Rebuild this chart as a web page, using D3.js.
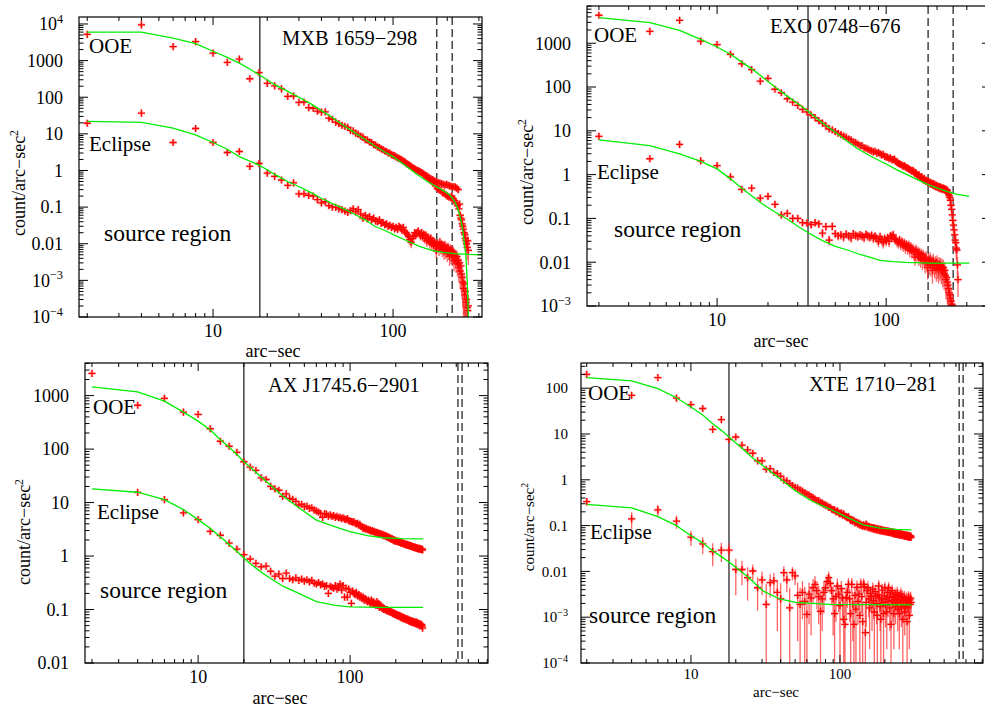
<!DOCTYPE html>
<html><head><meta charset="utf-8">
<script src="https://cdn.jsdelivr.net/npm/d3@7"></script>
<style>body{margin:0;background:#fff;}svg{display:block;font-family:"Liberation Serif","Times New Roman",serif;}</style>
</head><body><svg id="c" width="985" height="711"></svg>
<script>
// ---------- DATA ----------
const binRadius = [2,4,6,8,10,12,14,16,18,20,22,24,26,28,30,32,34,36,38,40,
42,44,46,48,50,52,54,56,58,60,62,64,66,68,70,72,74,76,78,80,
82,84,86,88,90,92,94,96,98,100,102,104,106,108,110,112,114,116,118,120,
122,124,126,128,130,132,134,136,138,140,142,144,146,148,150,152,154,156,158,160,
162,164,166,168,170,172,174,176,178,180,182,184,186,188,190,192,194,196,198,200,
202,204,206,208,210,212,214,216,218,220,222,224,226,228,230,232,234,236,238,240,
242,244,246,248,250,252,254,256,258,260,262,264,266,268,270,272,274,276,278,280,
282,284,286,288,290,292,294,296,298,300];

// Panel 1: MXB 1659-298
const p1OoeY = [5200,9500,2400,3300,1600,890,1100,320,470,240,
205,170,105,108,72,74,52,50,42,39,
40,27,25,21,19,17,16,15,12.5,12,
10.5,9.8,8.6,8.1,7.0,6.8,6.0,5.8,5.1,4.9,
4.4,4.2,3.9,3.7,3.4,3.3,3.0,3.0,2.7,2.6,
2.5,2.35,2.2,2.15,2.0,1.95,1.8,1.75,1.6,1.5,
1.45,1.35,1.3,1.2,1.15,1.1,1.05,1.0,0.98,0.95,
0.9,0.88,0.84,0.8,0.75,0.72,0.7,0.62,0.66,0.55,
0.6,0.5,0.56,0.45,0.52,0.38,0.5,0.32,0.47,0.3,
0.45,0.28,0.44,0.25,0.42,0.24,0.4,0.22,0.42,0.2,
0.4,0.19,0.38,0.18,0.37,0.2,0.36,0.17,0.36,0.15,
0.35,0.13,0.33,0.11,0.3,0.09,0.12,0.06,0.05,0.045,
0.035,0.03,0.025,0.02,0.018,0.014,0.012,0.01,0.008,0.012,
0.0066];
const p1OoeErr = [.03,.03,.03,.03,.03,.03,.03,.03,.03,.03,
.03,.03,.03,.03,.03,.03,.03,.03,.03,.03,
.04,.04,.04,.04,.04,.04,.04,.04,.04,.04,
.04,.04,.04,.04,.04,.04,.04,.04,.04,.04,
.05,.05,.05,.05,.05,.05,.05,.05,.05,.05,
.05,.05,.05,.05,.05,.05,.05,.05,.05,.05,
.06,.06,.06,.06,.06,.06,.06,.06,.06,.06,
.07,.07,.07,.07,.07,.07,.07,.07,.07,.07,
.08,.08,.09,.09,.1,.1,.1,.12,.1,.12,
.1,.12,.1,.13,.1,.13,.11,.14,.11,.14,
.11,.15,.12,.15,.12,.15,.12,.16,.12,.17,
.13,.18,.13,.2,.14,.22,.2,.25,.28,.3,
.32,.35,.38,.4,.42,.45,.5,.5,.55,.5,
.6];
const p1EclY = [19.5,37,5.8,14,5.8,3.1,3.3,1.3,1.55,0.85,
0.69,0.55,0.39,0.46,0.23,0.23,0.21,0.2,0.16,0.13,
0.14,0.11,0.1,0.098,0.09,0.085,0.078,0.072,0.08,0.09,
0.075,0.085,0.065,0.05,0.06,0.048,0.055,0.045,0.05,0.042,
0.04,0.045,0.036,0.038,0.033,0.035,0.03,0.032,0.028,0.03,
0.026,0.028,0.025,0.03,0.027,0.024,0.028,0.022,0.02,0.018,
0.016,0.013,0.011,0.014,0.016,0.02,0.018,0.02,0.022,0.019,
0.017,0.02,0.016,0.018,0.014,0.017,0.012,0.015,0.013,0.011,
0.014,0.01,0.012,0.009,0.011,0.0085,0.0065,0.01,0.009,0.0075,
0.011,0.008,0.0095,0.007,0.0085,0.006,0.009,0.0065,0.0075,0.0055,
0.008,0.006,0.0045,0.007,0.005,0.0065,0.0045,0.006,0.0035,0.005,
0.004,0.0032,0.0045,0.0028,0.0035,0.0022,0.003,0.0018,0.0025,0.0015,
0.0012,0.0009,0.0006,0.0008,0.0004,0.0005,0.00025,0.0003,0.00018,0.00015,
0.0002];
const p1EclErr = [.06,.05,.08,.06,.06,.07,.07,.09,.09,.09,
.1,.1,.12,.11,.12,.12,.12,.12,.13,.13,
.13,.14,.14,.14,.15,.15,.15,.16,.15,.15,
.16,.16,.17,.18,.17,.18,.18,.19,.18,.19,
.19,.19,.2,.2,.21,.2,.22,.21,.22,.21,
.22,.22,.23,.22,.23,.24,.23,.25,.26,.27,
.28,.3,.32,.3,.28,.26,.27,.26,.25,.27,
.28,.26,.28,.27,.3,.28,.32,.3,.32,.34,
.3,.33,.31,.34,.32,.35,.38,.33,.35,.38,
.32,.36,.34,.38,.35,.4,.34,.4,.37,.42,
.36,.4,.45,.38,.43,.4,.45,.4,.5,.44,
.46,.5,.45,.55,.5,.6,.55,.65,.58,.7,
.75,.8,.9,.85,.95,.95,1,1,1,1,
1];
const p1OoeModelX = [2,4,6,8,10,12,14,16,18,20,22,26,30,35,40,46,52,60,70,80,90,100,110,121,135,150,165,180,195,205,215,222,228,234,240,245,249,253,256,258,260,262];
const p1OoeModelY = [6000,6000,4100,2900,1800,1220,850,590,410,300,220,145,100,66,43,28,18,11.5,7.0,4.5,3.2,2.4,1.7,1.2,0.8,0.56,0.42,0.33,0.26,0.22,0.17,0.13,0.095,0.063,0.037,0.02,0.01,0.0056,0.0022,0.001,0.0004,0.0001];
const p1EclModelX = [2,4,6,8,10,12,14,16,18,20,22,26,30,34,40,46,52,60,70,79,90,100,121,140,164,190,220,260,312];
const p1EclModelY = [22,20.5,14.3,9.4,5.8,3.8,2.4,1.8,1.4,1.05,0.78,0.5,0.36,0.27,0.175,0.125,0.095,0.067,0.045,0.03,0.023,0.018,0.0117,0.0085,0.0066,0.0058,0.0054,0.0051,0.005];
const p1Solid = [18.2];
const p1Dashed = [175, 213];
const p1YTickVals = [1e4,1e3,100,10,1,0.1,0.01,1e-3,1e-4];
const p1YTickLabels = ["10^4","1000","100","10","1","0.1","0.01","10^−3","10^−4"];

// Panel 2: EXO 0748-676
const p2OoeY = [4350,1870,3330,1120,930,560,340,250,136,158,
89,74,54,45,38,31,27,23,20,17,
15,13,11,10.5,9.6,8.8,8.2,7.6,7.2,6.5,
6.2,5.6,5.4,5.0,4.6,4.6,4.1,4.0,3.8,3.6,
3.5,3.3,3.4,3.1,3.2,3.0,2.8,2.9,2.6,2.5,
2.5,2.3,2.4,2.2,2.2,2.25,2.0,1.9,1.8,1.75,
1.7,1.65,1.55,1.6,1.5,1.45,1.4,1.35,1.3,1.25,
1.2,1.25,1.15,1.05,1.1,1.0,0.95,1.0,0.9,0.85,
0.9,0.8,0.76,0.82,0.74,0.7,0.74,0.66,0.7,0.64,
0.67,0.6,0.64,0.58,0.62,0.55,0.6,0.53,0.57,0.52,
0.55,0.5,0.53,0.48,0.52,0.47,0.5,0.46,0.49,0.45,
0.48,0.44,0.46,0.42,0.44,0.39,0.36,0.33,0.3,0.26,
0.2,0.16,0.12,0.09,0.07,0.055,0.042,0.032,0.028,0.021,
0.019,0.0087,0.004];
const p2OoeErr = [.03,.03,.03,.03,.03,.03,.03,.03,.03,.03,
.03,.03,.03,.03,.03,.03,.03,.03,.03,.03,
.04,.04,.04,.04,.04,.04,.04,.04,.04,.04,
.04,.04,.04,.04,.04,.04,.04,.04,.04,.04,
.05,.05,.05,.05,.05,.05,.05,.05,.05,.05,
.05,.05,.05,.05,.05,.05,.05,.05,.05,.05,
.06,.06,.06,.06,.06,.06,.06,.06,.06,.06,
.07,.07,.07,.07,.07,.07,.07,.07,.07,.07,
.08,.08,.08,.09,.09,.09,.09,.1,.1,.1,
.1,.1,.1,.11,.11,.11,.11,.11,.12,.12,
.12,.12,.12,.12,.12,.12,.12,.12,.12,.12,
.12,.13,.12,.14,.13,.15,.16,.17,.18,.2,
.22,.25,.28,.3,.32,.35,.38,.4,.42,.45,
.45,.5,.6];
const p2EclY = [7.5,2.3,4.9,2.06,1.6,0.89,0.46,0.49,0.29,0.32,
0.21,0.12,0.13,0.1,0.1,0.08,0.078,0.072,0.08,0.075,
0.046,0.065,0.032,0.066,0.045,0.04,0.042,0.038,0.044,0.04,
0.036,0.045,0.041,0.039,0.042,0.04,0.037,0.043,0.04,0.038,
0.041,0.036,0.039,0.035,0.03,0.038,0.033,0.028,0.034,0.031,
0.036,0.03,0.04,0.038,0.042,0.035,0.033,0.03,0.028,0.032,
0.026,0.029,0.024,0.027,0.022,0.025,0.021,0.024,0.019,0.022,
0.018,0.02,0.017,0.013,0.019,0.015,0.017,0.013,0.016,0.012,
0.015,0.011,0.014,0.012,0.0095,0.013,0.01,0.0075,0.011,0.009,
0.012,0.0085,0.01,0.0065,0.011,0.009,0.008,0.0095,0.0072,0.01,
0.008,0.0068,0.009,0.0075,0.0085,0.0065,0.008,0.006,0.0075,0.0055,
0.0065,0.005,0.004,0.0045,0.0035,0.003,0.0025,0.002,0.0018,0.0015,
0.0013,0.0011,0.00105,0.0008,0.0006,0.0005,0.0004,0.0003];
const p2EclErr = [.06,.08,.07,.08,.09,.1,.12,.12,.13,.13,
.14,.16,.16,.17,.17,.18,.18,.19,.19,.19,
.22,.2,.25,.2,.22,.22,.22,.23,.22,.23,
.23,.22,.23,.23,.23,.24,.24,.23,.24,.24,
.24,.25,.25,.25,.26,.25,.26,.27,.26,.26,
.25,.26,.25,.25,.24,.26,.26,.27,.28,.27,
.28,.28,.29,.28,.3,.29,.3,.3,.32,.31,
.32,.32,.33,.36,.33,.35,.34,.37,.35,.38,
.36,.4,.37,.4,.42,.38,.42,.46,.4,.43,
.4,.45,.42,.5,.42,.45,.47,.44,.5,.45,
.48,.52,.47,.5,.48,.52,.5,.55,.52,.58,
.55,.6,.65,.62,.68,.72,.75,.8,.82,.85,
.88,.9,.95,1,1,1,1,1];
const p2OoeModelX = [2,4,6,8,10,12,14,16,18,22,26,30,34.5,42,50,60,67,80,100,115,133,155,182,205,230,260,310];
const p2OoeModelY = [3850,2960,1970,1230,820,560,370,260,185,100,62,42,28,15,9.3,5.5,4.0,2.7,1.75,1.3,1.0,0.75,0.57,0.48,0.41,0.36,0.32];
const p2EclModelX = [2,4,6,8,10,12,14,16,18,22,26,30,34.6,42,50,59,70,80,92,110,130,182,310];
const p2EclModelY = [6.2,4.6,2.97,2.0,1.35,0.8,0.49,0.33,0.23,0.14,0.097,0.066,0.047,0.031,0.023,0.019,0.015,0.013,0.011,0.0103,0.0099,0.0095,0.0095];
const p2Solid = [34.5];
const p2Dashed = [177, 249];
const p2YTickVals = [1000,100,10,1,0.1,0.01,1e-3];
const p2YTickLabels = ["1000","100","10","1","0.1","0.01","10^−3"];

// Panel 3: AX J1745.6-2901
const p3OoeY = [2600,660,890,490,445,240,140,113,87,58,
46,40,29,27,20,18,17,13,14.5,12,
11.5,10.5,9.0,9.3,8.4,8.6,7.8,8.0,7.2,7.0,
6.6,6.3,5.3,6.2,6.0,5.6,5.9,5.5,5.7,5.3,
5.5,5.2,5.3,5.0,5.2,4.9,4.8,5.0,4.6,4.5,
4.4,4.3,4.4,4.1,4.0,4.1,3.8,3.9,3.6,3.5,
3.3,3.4,3.2,3.3,3.1,3.15,3.0,3.05,2.9,3.0,
2.85,2.9,2.75,2.8,2.7,2.75,2.6,2.65,2.55,2.6,
2.5,2.55,2.4,2.45,2.35,2.4,2.3,2.25,2.3,2.2,
2.15,2.2,2.1,2.05,2.1,2.0,1.95,2.0,1.92,1.9,
1.93,1.87,1.85,1.88,1.82,1.8,1.83,1.76,1.75,1.78,
1.72,1.7,1.73,1.67,1.68,1.65,1.62,1.66,1.6,1.62,
1.58,1.56,1.6,1.55,1.53,1.56,1.5,1.52,1.48,1.5,
1.46,1.48,1.44,1.45,1.42,1.44,1.4,1.42,1.38,1.4,
1.37,1.36,1.39,1.34,1.36,1.33,1.35,1.32,1.34,1.3];
const p3EclY = [null,15.5,11.3,6.4,4.8,2.9,2.45,1.75,1.35,1.06,
0.88,0.73,0.63,0.65,0.52,0.42,0.46,0.38,0.48,0.38,
0.36,0.39,0.35,0.37,0.34,0.36,0.33,0.35,0.31,0.3,
0.32,0.29,0.3,0.27,0.28,0.2,0.27,0.26,0.25,0.28,
0.24,0.26,0.3,0.23,0.28,0.17,0.25,0.17,0.24,0.21,
0.13,0.22,0.2,0.19,0.21,0.18,0.19,0.17,0.18,0.16,
0.17,0.15,0.16,0.15,0.14,0.15,0.14,0.13,0.15,0.13,
0.14,0.125,0.13,0.12,0.14,0.12,0.13,0.11,0.12,0.115,
0.105,0.11,0.1,0.105,0.098,0.1,0.095,0.1,0.092,0.095,
0.09,0.094,0.088,0.09,0.085,0.088,0.082,0.085,0.08,0.083,
0.078,0.08,0.076,0.079,0.075,0.077,0.072,0.075,0.07,0.073,
0.069,0.071,0.067,0.07,0.066,0.068,0.065,0.067,0.063,0.066,
0.062,0.064,0.06,0.063,0.059,0.062,0.058,0.061,0.057,0.06,
0.058,0.056,0.059,0.055,0.057,0.054,0.058,0.053,0.056,0.052,
0.055,0.053,0.05,0.054,0.051,0.053,0.05,0.052,0.049,0.045];
const p3OoeModelX = [2,4,6,8,10,12,14,16,18,20,22,26,30,36.4,46,60,80,100,130,165,220,302];
const p3OoeModelY = [1450,1170,790,490,333,230,150,108,79,58,46,30,21,13,8.0,4.7,3.5,2.85,2.4,2.2,2.12,2.1];
const p3EclModelX = [2,4,6,8,10,12,14,16,18,20,22,26,30,36.4,46,60,80,100,150,302];
const p3EclModelY = [18,15.6,11.3,7.4,4.8,3.3,2.3,1.65,1.22,0.92,0.72,0.5,0.38,0.27,0.2,0.14,0.12,0.112,0.11,0.11];
const p3Solid = [20];
const p3Dashed = [513, 546];
const p3YTickVals = [1000,100,10,1,0.1,0.01];
const p3YTickLabels = ["1000","100","10","1","0.1","0.01"];

// Panel 4: XTE 1710-281
const p4OoeY = [200,70,170,61,44,36,12.6,20.5,7.6,8.6,
5.7,4.5,3.8,2.6,2.6,1.7,1.75,1.45,1.37,1.2,
0.98,0.95,0.83,0.75,0.68,0.66,0.6,0.57,0.52,0.49,
0.47,0.43,0.41,0.38,0.35,0.35,0.32,0.31,0.29,0.28,
0.27,0.25,0.25,0.23,0.22,0.22,0.2,0.21,0.19,0.18,
0.19,0.17,0.18,0.16,0.155,0.15,0.155,0.14,0.13,0.135,
0.125,0.13,0.115,0.12,0.117,0.108,0.113,0.102,0.107,0.1,
0.097,0.104,0.095,0.1,0.108,0.093,0.097,0.09,0.094,0.088,
0.092,0.086,0.09,0.084,0.089,0.082,0.087,0.081,0.086,0.08,
0.084,0.078,0.083,0.077,0.082,0.076,0.08,0.075,0.079,0.074,
0.078,0.073,0.077,0.072,0.076,0.071,0.075,0.07,0.074,0.069,
0.073,0.068,0.072,0.067,0.071,0.066,0.07,0.065,0.069,0.065,
0.068,0.064,0.067,0.063,0.067,0.062,0.066,0.062,0.065,0.061,
0.065,0.06,0.064,0.06,0.063,0.059,0.063,0.058,0.062,0.058,
0.061,0.057,0.061,0.057,0.06,0.056,0.06,0.055,0.059,0.056];
const p4EclY = [0.335,0.14,0.22,0.125,0.056,0.04,0.027,0.029,0.029,0.011,
0.011,0.0073,0.0102,0.0044,0.0065,0.0019,0.0057,0.0062,0.0035,0.0025,
0.0094,0.0065,0.0016,0.0094,0.008,0.003,0.0019,0.0035,0.0022,0.00115,
0.0032,0.0026,0.0044,0.0052,0.0038,0.0028,0.00135,0.0025,0.0035,0.0044,
0.006,0.0073,0.0055,0.0038,0.0025,0.0012,0.0028,0.0048,0.0032,0.0018,
0.0042,0.0026,0.0009,0.0007,0.0027,0.0035,0.0052,0.0025,0.0012,0.0052,
0.0019,0.0007,0.003,0.0015,0.0045,0.0022,0.0032,0.0011,0.0052,0.0028,
0.0008,0.0052,0.0046,0.00046,0.0021,0.0038,0.0044,0.0025,0.0016,0.0033,
0.0028,0.0019,0.0041,0.0023,0.0013,0.0036,0.0029,0.002,0.0011,0.0031,
0.0048,0.0026,0.0017,0.0009,0.0024,0.0039,0.0021,0.0012,0.0029,0.0044,
0.0018,0.0025,0.0013,0.0035,0.0022,0.0044,0.0027,0.0016,0.0034,0.0007,
0.0023,0.0038,0.0019,0.0028,0.0012,0.0024,0.0031,0.0017,0.0026,0.0021,
0.0034,0.0015,0.0023,0.0029,0.0012,0.0025,0.0019,0.0032,0.0016,0.0023,
0.0028,0.0009,0.0024,0.0018,0.0027,0.0013,0.0022,0.0017,0.0025,0.0019,
0.0008,0.0023,0.0016,0.0027,0.0021,0.0011,0.0024,0.0019,0.0026,0.0021];
const p4EclAbsErr = [0.06,0.055,0.06,0.04,0.02,0.016,0.014,0.013,0.012,0.008,
0.006,0.005,0.004,0.003,0.0035,0.0035,0.003,0.003,0.003,0.003,
0.0035,0.003,0.0028,0.003,0.003,0.0027,0.0025,0.0026,0.0024,0.0023,
0.0025,0.0022,0.0024,0.0026,0.0023,0.0021,0.0022,0.002,0.0023,0.0021,
0.0024,0.0026,0.0022,0.002,0.0021,0.0019,0.002,0.0022,0.0019,0.0018,
0.002,0.0018,0.0017,0.0016,0.0018,0.0019,0.002,0.0017,0.0016,0.002,
0.0016,0.0015,0.0017,0.0016,0.0018,0.0015,0.0016,0.0014,0.0019,0.0016,
0.0014,0.0018,0.0017,0.0014,0.0015,0.0016,0.0017,0.0015,0.0014,0.0015,
0.0015,0.0014,0.0016,0.0014,0.0013,0.0015,0.0014,0.0013,0.0012,0.0014,
0.0016,0.0013,0.0012,0.0012,0.0013,0.0015,0.0012,0.0012,0.0013,0.0015,
0.0012,0.0013,0.0011,0.0014,0.0012,0.0014,0.0012,0.0011,0.0013,0.001,
0.0012,0.0013,0.0011,0.0012,0.001,0.0011,0.0012,0.001,0.0011,0.001,
0.0012,0.001,0.0011,0.0011,0.001,0.0011,0.001,0.0012,0.001,0.001,
0.0011,0.0009,0.001,0.001,0.0011,0.0009,0.001,0.0009,0.001,0.0009,
0.0009,0.001,0.0009,0.001,0.0009,0.0009,0.001,0.0009,0.001,0.0009];
const p4OoeModelX = [2,4,6,8,10,12,14,16,18,22,26,30.6,40,50.4,65,85.6,110,143.5,185,240,302];
const p4OoeModelY = [170,145,98,62,39,26,16.8,12,8.6,4.9,3.0,2.0,1.03,0.57,0.34,0.23,0.155,0.104,0.088,0.083,0.081];
const p4EclModelX = [2,4,6,8,10,12,14,16,18,23.7,30.6,39.5,50.4,85.6,302];
const p4EclModelY = [0.29,0.245,0.157,0.1,0.06,0.042,0.028,0.021,0.016,0.0079,0.0037,0.0025,0.0021,0.0019,0.00185];
const p4Solid = [18];
const p4Dashed = [630, 670];
const p4YTickVals = [100,10,1,0.1,0.01,1e-3,1e-4];
const p4YTickLabels = ["100","10","1","0.1","0.01","10^−3","10^−4"];

const xTickVals = [10, 100];
const xTickLabels = ["10", "100"];
const titles = ["MXB 1659−298", "EXO 0748−676", "AX J1745.6−2901", "XTE 1710−281"];
const seriesNames = ["OOE", "Eclipse"];
const regionLabel = "source region";
const xAxisLabel = "arc−sec";
const yAxisLabel = "count/arc−sec";

// ---------- LAYOUT ----------
const panels = [
 {title:titles[0], box:[79,482,17,317], xDom:[1.8,312], yDom:[1e-4,15500],
  yv:p1YTickVals, yl:p1YTickLabels,
  series:[{y:p1OoeY, rel:p1OoeErr},{y:p1EclY, rel:p1EclErr}],
  models:[[p1OoeModelX,p1OoeModelY],[p1EclModelX,p1EclModelY]],
  solid:p1Solid, dashed:p1Dashed, tfs:18, tgap:16, xlabBase:337,
  pos:{title:[282,45], ooe:[89,52.5], ecl:[89,150.5], src:[104,241], xlab:[273,357], ylab:[19,183]}},
 {title:titles[1], box:[587,991,6,306], xDom:[1.7,417], yDom:[1e-3,7080],
  yv:p2YTickVals, yl:p2YTickLabels,
  series:[{y:p2OoeY, rel:p2OoeErr},{y:p2EclY, rel:p2EclErr}],
  models:[[p2OoeModelX,p2OoeModelY],[p2EclModelX,p2EclModelY]],
  solid:p2Solid, dashed:p2Dashed, tfs:18, tgap:16, xlabBase:326,
  pos:{title:[770,33], ooe:[594,41.5], ecl:[597,178.5], src:[614,237], xlab:[781,347], ylab:[527,172]}},
 {title:titles[2], box:[85,488,363,663], xDom:[1.8,809], yDom:[0.01,4070],
  yv:p3YTickVals, yl:p3YTickLabels,
  series:[{y:p3OoeY},{y:p3EclY}],
  models:[[p3OoeModelX,p3OoeModelY],[p3EclModelX,p3EclModelY]],
  solid:p3Solid, dashed:p3Dashed, tfs:18, tgap:16, xlabBase:683,
  pos:{title:[268,392], ooe:[93,413.5], ecl:[97,518.5], src:[100,598], xlab:[280,704], ylab:[24,532]}},
 {title:titles[3], box:[581,983,363,663], xDom:[1.83,911], yDom:[1e-4,355],
  yv:p4YTickVals, yl:p4YTickLabels,
  series:[{y:p4OoeY},{y:p4EclY, abs:p4EclAbsErr}],
  models:[[p4OoeModelX,p4OoeModelY],[p4EclModelX,p4EclModelY]],
  solid:p4Solid, dashed:p4Dashed, tfs:15, tgap:13, xlabBase:679,
  pos:{title:[809,391], ooe:[588,399.5], ecl:[590,538.5], src:[589,623], xlab:[776,697], ylab:[529,527]}}
];

const svg = d3.select("#c");
const defs = svg.append("defs");

function logTicks(dom){
  const out = [];
  const d0 = Math.floor(Math.log10(dom[0])), d1 = Math.ceil(Math.log10(dom[1]));
  for (let d = d0; d <= d1; d++) for (let k = 1; k <= 9; k++) {
    const v = k * Math.pow(10, d);
    if (v >= dom[0]*0.9999 && v <= dom[1]*1.0001) out.push({v, major:k===1});
  }
  return out;
}
function addLabel(sel, s, fs){
  const m = s.match(/^10\^(.+)$/);
  if (m) {
    sel.append("tspan").text("10");
    sel.append("tspan").attr("font-size", fs*0.68).attr("dy", -fs*0.42).text(m[1]);
  } else sel.text(s);
}

panels.forEach((p, pi) => {
  const [L, Rr, T, B] = p.box;
  const x = d3.scaleLog().domain(p.xDom).range([L, Rr]);
  const y = d3.scaleLog().domain(p.yDom).range([B, T]);
  const g = svg.append("g");
  const cid = "clip" + pi;
  defs.append("clipPath").attr("id", cid).append("rect")
    .attr("x", L).attr("y", T).attr("width", Rr - L).attr("height", B - T);
  const inner = g.append("g").attr("clip-path", `url(#${cid})`);

  p.solid.forEach(v => inner.append("line").attr("x1", x(v)).attr("x2", x(v)).attr("y1", T).attr("y2", B)
    .attr("stroke", "#000").attr("stroke-width", 1.1));
  p.dashed.forEach(v => inner.append("line").attr("x1", x(v)).attr("x2", x(v)).attr("y1", T).attr("y2", B)
    .attr("stroke", "#000").attr("stroke-width", 1.1).attr("stroke-dasharray", "8,4"));

  p.series.forEach(s => {
    const pts = [];
    s.y.forEach((v, i) => { if (v != null) pts.push({r: binRadius[i], v, i}); });
    const errOf = d => s.abs ? s.abs[d.i] : (s.rel ? s.rel[d.i] * d.v : 0);
    const lowOf = d => { const lo = d.v - errOf(d); return lo > 0 ? lo : p.yDom[0] * 0.1; };
    const hiOf = d => d.v + errOf(d);
    if (s.rel || s.abs) {
      inner.append("g").selectAll("line").data(pts).join("line")
        .attr("x1", d => x(d.r)).attr("x2", d => x(d.r))
        .attr("y1", d => y(lowOf(d))).attr("y2", d => y(hiOf(d)))
        .attr("stroke", "#ff2020").attr("stroke-opacity", 0.7).attr("stroke-width", 1.3);
    }
    const mk = "M-3.6,0H3.6M0,-3.6V3.6";
    inner.append("g").selectAll("path").data(pts).join("path")
      .attr("transform", d => `translate(${x(d.r)},${y(d.v)})`).attr("d", mk)
      .attr("stroke", "#ff8080").attr("stroke-width", 3).attr("stroke-opacity", 0.45).attr("fill", "none");
    inner.append("g").selectAll("path").data(pts).join("path")
      .attr("transform", d => `translate(${x(d.r)},${y(d.v)})`).attr("d", mk)
      .attr("stroke", "#ff0000").attr("stroke-width", 1.3).attr("fill", "none");
  });

  const line = d3.line().x(d => x(d[0])).y(d => y(d[1]));
  p.models.forEach(([mx, my]) => {
    inner.append("path").datum(mx.map((v, i) => [v, my[i]])).attr("d", line)
      .attr("fill", "none").attr("stroke", "#00ee00").attr("stroke-width", 1.3);
  });

  const tg = g.append("g").attr("stroke", "#000").attr("stroke-width", 1);
  logTicks(p.xDom).forEach(t => {
    const px = x(t.v), len = t.major ? 8 : 4;
    tg.append("line").attr("x1", px).attr("x2", px).attr("y1", B).attr("y2", B - len);
    tg.append("line").attr("x1", px).attr("x2", px).attr("y1", T).attr("y2", T + len);
  });
  logTicks(p.yDom).forEach(t => {
    const py = y(t.v), len = t.major ? 9 : 4.5;
    tg.append("line").attr("x1", L).attr("x2", L + len).attr("y1", py).attr("y2", py);
    tg.append("line").attr("x1", Rr).attr("x2", Rr - len).attr("y1", py).attr("y2", py);
  });
  g.append("rect").attr("x", L).attr("y", T).attr("width", Rr - L).attr("height", B - T)
    .attr("fill", "none").attr("stroke", "#000").attr("stroke-width", 1.2);

  p.yv.forEach((v, i) => {
    const t = g.append("text").attr("x", L - p.tgap).attr("y", y(v)).attr("dy", "0.35em")
      .attr("text-anchor", "end").attr("font-size", p.tfs);
    addLabel(t, p.yl[i], p.tfs);
  });
  xTickVals.forEach((v, i) => {
    g.append("text").attr("x", x(v)).attr("y", p.xlabBase).attr("text-anchor", "middle")
      .attr("font-size", p.tfs).text(xTickLabels[i]);
  });

  g.append("text").attr("x", p.pos.xlab[0]).attr("y", p.pos.xlab[1]).attr("text-anchor", "middle")
    .attr("font-size", p.tfs).text(xAxisLabel);
  const yl = g.append("text").attr("transform", `translate(${p.pos.ylab[0]},${p.pos.ylab[1]}) rotate(-90)`)
    .attr("text-anchor", "middle").attr("dy", "0.35em").attr("font-size", p.tfs);
  yl.append("tspan").text(yAxisLabel);
  yl.append("tspan").attr("font-size", p.tfs * 0.65).attr("dy", -p.tfs * 0.42).text("2");

  g.append("text").attr("x", p.pos.title[0]).attr("y", p.pos.title[1]).attr("font-size", 20.5).text(p.title);
  g.append("text").attr("x", p.pos.ooe[0]).attr("y", p.pos.ooe[1]).attr("font-size", 21).text(seriesNames[0]);
  g.append("text").attr("x", p.pos.ecl[0]).attr("y", p.pos.ecl[1]).attr("font-size", 21).text(seriesNames[1]);
  g.append("text").attr("x", p.pos.src[0]).attr("y", p.pos.src[1]).attr("font-size", 23.5).text(regionLabel);
});
</script>
</body></html>
